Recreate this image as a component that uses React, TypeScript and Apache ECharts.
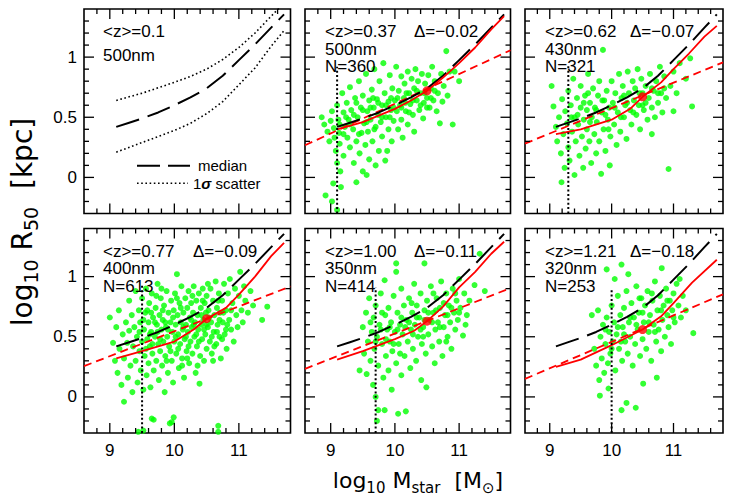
import React, { useEffect, useRef } from 'react';
import * as echarts from 'echarts';

// ---------- axes ----------
const X_MIN = 8.6;
const X_MAX = 11.8;
const Y_MIN = -0.3;
const Y_MAX = 1.4;
const xMajor = [9, 10, 11];
const xMinor = [8.8, 9.2, 9.4, 9.6, 9.8, 10.2, 10.4, 10.6, 10.8, 11.2, 11.4, 11.6];
const yMajor = [0, 0.5, 1];
const yMinor = [-0.2, -0.1, 0.1, 0.2, 0.3, 0.4, 0.6, 0.7, 0.8, 0.9, 1.1, 1.2, 1.3];

// ---------- panel texts ----------
const zLabels = ['<z>=0.1', '<z>=0.37', '<z>=0.62', '<z>=0.77', '<z>=1.00', '<z>=1.21'];
const bandLabels = ['500nm', '500nm', '430nm', '400nm', '350nm', '320nm'];
const countLabels = ['', 'N=360', 'N=321', 'N=613', 'N=414', 'N=253'];
const deltaLabels = ['', 'Δ=−0.02', 'Δ=−0.07', 'Δ=−0.09', 'Δ=−0.11', 'Δ=−0.18'];

// ---------- z=0.1 reference relation ----------
const median = [[9.1, 0.42], [9.3, 0.455], [9.5, 0.49], [9.75, 0.54], [10, 0.6], [10.25, 0.665], [10.5, 0.74], [10.75, 0.845], [11, 0.975], [11.25, 1.105], [11.5, 1.245], [11.7, 1.355]];
const sigmaUp = [[9.1, 0.64], [9.5, 0.7], [10, 0.79], [10.25, 0.84], [10.5, 0.9], [10.75, 0.98], [11, 1.08], [11.25, 1.2], [11.5, 1.34], [11.7, 1.45]];
const sigmaLo = [[9.1, 0.21], [9.5, 0.29], [10, 0.39], [10.25, 0.45], [10.5, 0.53], [10.75, 0.63], [11, 0.77], [11.25, 0.91], [11.5, 1.09], [11.7, 1.22]];

// ---------- red solid (shifted median) ----------
const red037 = [[9.1, 0.4], [9.5, 0.46], [10, 0.57], [10.25, 0.64], [10.5, 0.72], [10.75, 0.83], [11, 0.95], [11.25, 1.08], [11.5, 1.23], [11.7, 1.34]];
const red062 = [[9.1, 0.36], [9.5, 0.4], [10, 0.48], [10.3, 0.57], [10.5, 0.67], [10.8, 0.79], [11, 0.9], [11.25, 1.03], [11.5, 1.17], [11.7, 1.26]];
const red077 = [[9.1, 0.32], [9.5, 0.38], [10, 0.46], [10.3, 0.56], [10.5, 0.65], [10.8, 0.74], [11, 0.85], [11.25, 1.0], [11.5, 1.17], [11.7, 1.28]];
const red100 = [[9.1, 0.31], [9.5, 0.38], [10, 0.48], [10.3, 0.55], [10.5, 0.63], [10.75, 0.75], [11, 0.91], [11.25, 1.04], [11.5, 1.19], [11.7, 1.29]];
const red121 = [[9.1, 0.25], [9.5, 0.31], [10, 0.43], [10.5, 0.56], [10.8, 0.67], [11, 0.78], [11.3, 0.95], [11.7, 1.14]];

// ---------- red dashed linear fits ----------
const fit037 = [[8.6, 0.267], [11.8, 1.057]];
const fit062 = [[8.6, 0.281], [11.8, 0.956]];
const fit077 = [[8.6, 0.256], [11.8, 0.918]];
const fit100 = [[8.6, 0.233], [11.8, 0.905]];
const fit121 = [[8.6, 0.15], [11.8, 0.853]];

// ---------- red dots at log M = 10.5 ----------
const dot037 = [[10.5, 0.72]];
const dot062 = [[10.5, 0.67]];
const dot077 = [[10.5, 0.65]];
const dot100 = [[10.5, 0.63]];
const dot121 = [[10.5, 0.56]];

// ---------- completeness limits ----------
const limit037 = [[9.1, -0.3], [9.1, 0.92]];
const limit062 = [[9.3, -0.3], [9.3, 0.93]];
const limit077 = [[9.5, -0.3], [9.5, 0.93]];
const limit100 = [[9.7, -0.3], [9.7, 0.91]];
const limit121 = [[10.0, -0.3], [10.0, 0.9]];

// ---------- galaxies (green) ----------
const pts037 = [
  [8.86, 0.5], [8.9, 0.44], [8.95, 0.38], [8.98, 0.3], [9.0, 0.47], [9.02, 0.55], [9.05, 0.41], [9.06, 0.33], [9.08, 0.22], [9.1, 0.12], [9.1, 0.6], [9.12, 0.48], [9.13, 0.37], [9.14, 0.28], [9.15, 0.05], [9.16, -0.08], [9.04, -0.05], [9.02, -0.2], [8.92, -0.15], [9.18, 0.7], [9.2, 0.54], [9.2, 0.18], [9.1, -0.27],
  [9.22, 0.42], [9.25, 0.62], [9.26, 0.33], [9.28, 0.48], [9.3, 0.75], [9.3, 0.25], [9.32, 0.56], [9.35, 0.4], [9.36, 0.12], [9.38, 0.66], [9.4, 0.3], [9.4, -0.04], [9.42, 0.5], [9.44, 0.8], [9.45, 0.2], [9.47, 0.58], [9.48, 0.37], [9.5, 0.05], [9.5, 0.68], [9.52, 0.45], [9.54, 0.27], [9.55, 0.86], [9.56, 0.02], [9.57, 0.55], [9.58, 0.38], [9.6, 0.64], [9.6, 0.15],
  [9.62, 0.48], [9.64, 0.73], [9.65, 0.3], [9.67, 0.58], [9.68, 0.9], [9.7, 0.42], [9.7, 0.1], [9.72, 0.65], [9.74, 0.52], [9.75, 0.22], [9.76, 0.8], [9.78, 0.46], [9.8, 0.6], [9.8, 0.34], [9.82, 0.95], [9.84, 0.7], [9.85, 0.14], [9.86, 0.5], [9.88, 0.22], [9.9, 0.63], [9.9, 0.4], [9.92, 0.85], [9.94, 0.56], [9.95, 0.3], [9.96, 0.74], [9.98, 0.47], [10.0, 0.64],
  [10.02, 0.92], [10.03, 0.55], [10.05, 0.4], [10.06, 0.72], [10.08, 0.6], [10.1, 0.84], [10.1, 0.48], [10.12, 0.33], [10.14, 0.66], [10.15, 0.78], [10.17, 0.55], [10.2, 0.88], [10.2, 0.44], [10.22, 0.7], [10.24, 0.61], [10.26, 0.82], [10.28, 0.52], [10.3, 0.74], [10.3, 0.38], [10.32, 0.9], [10.34, 0.64], [10.36, 0.8], [10.38, 0.56], [10.4, 0.7], [10.42, 0.86], [10.44, 0.49], [10.45, 0.62], [10.47, 0.78], [10.5, 0.66],
  [10.52, 0.85], [10.54, 0.58], [10.56, 0.74], [10.58, 0.92], [10.6, 0.64], [10.62, 0.8], [10.65, 0.55], [10.67, 0.7], [10.7, 0.45], [10.72, 0.86], [10.74, 0.63], [10.76, 0.76], [10.8, 1.05], [10.82, 0.68], [10.85, 0.88], [10.9, 0.44], [10.93, 0.88], [11.0, 0.8],
  [9.3, 0.44], [9.36, 0.52], [9.44, 0.36], [9.5, 0.56], [9.56, 0.46], [9.62, 0.58], [9.68, 0.4], [9.74, 0.62], [9.8, 0.5], [9.86, 0.6], [9.92, 0.5], [9.98, 0.58], [10.04, 0.66], [10.1, 0.58], [10.16, 0.62], [10.22, 0.54], [10.28, 0.64], [10.34, 0.72], [10.4, 0.6], [10.46, 0.7], [10.56, 0.66], [10.62, 0.72], [9.2, 0.36], [9.24, 0.5], [9.14, 0.44], [9.4, 0.62], [9.66, 0.66], [9.94, 0.66], [10.18, 0.7], [10.5, 0.58]
];
const pts062 = [
  [9.03, 0.76], [9.06, 0.59], [9.1, 0.42], [9.12, 0.3], [9.15, 0.5], [9.18, 0.2], [9.19, -0.04], [9.2, 0.65], [9.22, 0.36], [9.24, 0.08], [9.25, 0.55], [9.28, 0.45], [9.3, 0.72], [9.3, 0.25], [9.32, 0.14], [9.34, 0.6], [9.36, 0.38], [9.38, 0.82], [9.4, 0.5], [9.4, 0.02], [9.42, 0.3], [9.44, 0.66], [9.46, 0.44], [9.48, 0.18], [9.5, 0.58], [9.5, 0.76], [9.52, 0.34], [9.54, 0.08], [9.55, 0.48], [9.57, 0.68], [9.58, 0.24], [9.6, 0.56], [9.6, 0.4], [9.62, 0.86], [9.64, 0.3], [9.65, 0.62], [9.67, 0.12], [9.68, 0.5], [9.7, 0.74], [9.72, 0.36], [9.73, 0.58], [9.75, 0.2], [9.76, 0.46], [9.78, 0.68], [9.8, 0.8], [9.8, 0.3], [9.83, 0.03], [9.84, 0.54], [9.86, 1.06], [9.87, 0.4], [9.88, 0.64], [9.9, 0.22], [9.92, 0.72], [9.94, 0.48], [9.96, 0.58], [9.97, 0.1], [9.98, 0.34],
  [10.0, 0.8], [10.02, 0.62], [10.04, 0.44], [10.06, 0.7], [10.08, 0.27], [10.1, 0.54], [10.12, 0.86], [10.14, 0.38], [10.16, 0.66], [10.18, 0.76], [10.2, 0.5], [10.22, 0.6], [10.24, 0.32], [10.26, 0.88], [10.28, 0.7], [10.3, 0.56], [10.32, 0.44], [10.34, 0.8], [10.36, 0.64], [10.38, 0.74], [10.4, 0.52], [10.42, 0.9], [10.44, 0.6], [10.46, 0.4], [10.48, 0.82], [10.5, 0.7], [10.52, 0.56], [10.55, 0.76], [10.58, 0.48], [10.6, 0.66], [10.62, 0.86], [10.65, 0.36], [10.65, 0.58], [10.68, 0.72], [10.7, 0.5], [10.72, 0.8], [10.75, 0.62], [10.78, 0.92], [10.8, 0.7], [10.82, 0.54], [10.85, 0.84], [10.88, 0.66], [10.92, 0.07], [10.95, 0.76], [11.0, 0.88], [11.05, 0.7], [11.1, 0.95], [11.2, 0.82], [11.27, 0.99], [11.3, 0.59], [11.0, 0.55],
  [9.45, 0.52], [9.55, 0.62], [9.65, 0.46], [9.75, 0.56], [9.85, 0.64], [9.95, 0.4], [10.05, 0.58], [10.15, 0.5], [10.25, 0.62], [10.35, 0.54], [10.45, 0.7], [10.55, 0.62], [10.65, 0.74], [10.75, 0.7], [9.35, 0.5], [9.62, 0.7], [9.9, 0.52], [10.2, 0.68], [10.5, 0.6], [10.85, 0.74]
];
const pts077 = [
  [9.0, 0.66], [9.05, 0.45], [9.08, 0.3], [9.1, 0.58], [9.12, 0.2], [9.14, 0.72], [9.15, 0.4], [9.18, 0.1], [9.2, 0.52], [9.22, -0.04], [9.22, 0.32], [9.25, 0.62], [9.27, 0.45], [9.28, 0.16], [9.3, 0.8], [9.3, 0.55], [9.32, 0.26], [9.34, 0.68], [9.35, 0.04], [9.36, 0.42], [9.38, 0.58], [9.4, 0.88], [9.4, 0.3], [9.42, 0.5], [9.43, 0.12], [9.44, -0.29], [9.45, 0.72], [9.46, 0.38], [9.47, 0.62], [9.48, 0.22], [9.5, 0.82], [9.5, 0.46], [9.52, -0.28], [9.52, 0.06],
  [9.53, 0.56], [9.54, 0.34], [9.55, 0.7], [9.56, 0.9], [9.57, 0.18], [9.58, 0.48], [9.6, 0.62], [9.6, 0.28], [9.61, 0.78], [9.62, 0.42], [9.63, 0.08], [9.64, 0.54], [9.65, -0.18], [9.65, 0.86], [9.66, 0.36], [9.67, 0.66], [9.68, 0.22], [9.68, -0.19], [9.7, 0.5], [9.71, 0.74], [9.72, 0.3], [9.73, 0.6], [9.74, 0.94], [9.75, 0.44], [9.76, 0.14], [9.77, 0.68], [9.78, 0.38], [9.79, 0.82], [9.8, 0.56], [9.81, 0.26], [9.82, 0.64], [9.83, 0.46], [9.84, 0.76], [9.85, 0.04], [9.86, 0.34], [9.87, 0.58], [9.88, 0.88], [9.89, 0.5], [9.9, 0.2], [9.91, 0.7], [9.92, 0.42], [9.93, -0.22], [9.94, 0.62], [9.95, 0.8], [9.96, 0.3], [9.96, -0.21], [9.97, 0.54], [9.98, 0.12], [9.99, -0.17], [9.99, 0.72],
  [10.0, 0.46], [10.01, 0.86], [10.02, 0.6], [10.03, 0.36], [10.04, 1.02], [10.05, 0.68], [10.06, 0.52], [10.07, 0.24], [10.08, 0.78], [10.09, 0.44], [10.1, 0.62], [10.11, 0.92], [10.12, 0.32], [10.13, 0.56], [10.14, 0.7], [10.15, 0.16], [10.16, 0.48], [10.17, 0.82], [10.18, 0.6], [10.19, 0.38], [10.2, 0.74], [10.21, 0.54], [10.22, 0.88], [10.23, 0.28], [10.24, 0.66], [10.25, 0.46], [10.26, 0.78], [10.27, 0.58], [10.28, 0.36], [10.29, 0.7], [10.3, 0.92], [10.31, 0.5], [10.32, 0.62], [10.33, 0.2], [10.34, 0.8], [10.35, 0.42], [10.36, 0.68], [10.37, 0.56], [10.38, 0.86], [10.39, 0.11], [10.4, 0.34], [10.41, 0.74], [10.42, 0.6], [10.43, 0.48], [10.44, 0.9], [10.45, 0.64], [10.46, 0.3], [10.47, 0.78], [10.48, 0.52], [10.49, 0.7], [10.5, 0.4], [10.5, 0.84],
  [10.52, 0.58], [10.53, 0.72], [10.55, 0.46], [10.56, 0.9], [10.57, 0.62], [10.58, 0.36], [10.6, 0.8], [10.61, 0.54], [10.62, 0.68], [10.64, 0.96], [10.65, 0.44], [10.66, 0.74], [10.67, 0.6], [10.68, -0.24], [10.68, -0.29], [10.69, 0.86], [10.7, 0.5], [10.71, 0.7], [10.72, 0.32], [10.74, 0.8], [10.75, 0.62], [10.77, 0.94], [10.78, 0.52], [10.8, 0.72], [10.81, 0.4], [10.83, 0.86], [10.85, 0.64], [10.86, 0.98], [10.88, 0.56], [10.9, 0.78], [10.92, 0.46], [10.94, 0.9], [10.96, 0.68], [10.98, 0.58], [11.0, 0.84], [11.02, 1.04], [11.04, 0.72], [11.06, 0.62], [11.08, 0.92], [11.1, 0.8], [11.14, 0.7], [11.18, 0.88], [11.22, 0.76], [11.36, 0.64], [11.44, 0.75],
  [9.58, 0.72], [9.62, 0.52], [9.66, 0.44], [9.7, 0.62], [9.74, 0.54], [9.78, 0.48], [9.82, 0.72], [9.86, 0.62], [9.9, 0.56], [9.94, 0.38], [9.98, 0.66], [10.02, 0.5], [10.06, 0.4], [10.1, 0.74], [10.14, 0.58], [10.18, 0.5], [10.22, 0.42], [10.26, 0.64], [10.3, 0.6], [10.34, 0.52], [10.38, 0.46], [10.42, 0.68], [10.46, 0.56], [10.5, 0.6], [10.54, 0.66], [10.58, 0.5], [10.62, 0.42], [10.66, 0.54], [10.7, 0.64], [10.76, 0.7], [10.82, 0.6], [10.88, 0.72], [9.52, 0.64], [9.46, 0.54], [9.56, 0.4], [9.64, 0.7], [9.72, 0.84], [9.8, 0.9], [9.88, 0.3], [10.04, 0.82], [10.12, 0.26], [10.2, 0.32], [10.28, 0.84], [10.36, 0.26], [10.44, 0.8], [10.52, 0.94], [10.6, 0.3], [10.68, 0.8], [10.74, 0.48], [10.8, 0.56]
];
const pts100 = [
  [9.45, 0.22], [9.5, 0.58], [9.52, 0.36], [9.55, 0.7], [9.56, 0.19], [9.58, 0.46], [9.6, 0.82], [9.62, 0.3], [9.64, 0.54], [9.66, 0.1], [9.67, 0.66], [9.68, 0.4], [9.7, 0.0], [9.7, 0.76], [9.72, -0.2], [9.72, 0.5], [9.74, -0.11], [9.74, 0.26], [9.76, 0.6], [9.78, 0.86], [9.8, 0.44], [9.82, 0.16], [9.84, 0.97], [9.84, -0.11], [9.85, 0.68], [9.86, 0.34], [9.88, 0.56], [9.9, 0.74], [9.9, 0.22], [9.92, 0.46], [9.94, 0.62], [9.95, 0.06], [9.96, 0.38], [9.98, 0.84],
  [10.0, 0.54], [10.02, 1.11], [10.02, 1.04], [10.02, 0.28], [10.04, 0.7], [10.05, -0.14], [10.06, 0.44], [10.08, 0.6], [10.1, 0.9], [10.1, 0.18], [10.12, 0.52], [10.14, 0.76], [10.15, 0.34], [10.17, -0.12], [10.18, 0.64], [10.2, 0.46], [10.22, 0.82], [10.24, 0.24], [10.25, 0.56], [10.27, 0.7], [10.28, 0.4], [10.3, 0.94], [10.31, 0.6], [10.33, 0.3], [10.34, 0.76], [10.36, 0.5], [10.38, 0.66], [10.4, 0.86], [10.41, 0.14], [10.42, 0.44], [10.44, 0.58], [10.46, 1.11], [10.46, 0.72], [10.48, 0.36], [10.49, 0.08], [10.5, 0.8],
  [10.52, 0.52], [10.54, 0.64], [10.56, 0.92], [10.58, 0.42], [10.6, 0.7], [10.62, 0.28], [10.63, 0.56], [10.65, 0.82], [10.67, 0.62], [10.69, 0.46], [10.7, 0.74], [10.72, 0.96], [10.74, 0.34], [10.76, 0.58], [10.78, 0.68], [10.8, 0.86], [10.82, 0.5], [10.84, 0.76], [10.86, 0.62], [10.88, 0.4], [10.9, 0.9], [10.92, 0.7], [10.94, 0.56], [10.96, 0.8], [10.98, 0.64], [11.0, 0.98], [11.02, 0.74], [11.06, 0.51], [11.08, 0.86], [11.12, 0.68], [11.16, 0.8], [11.24, 0.93], [11.32, 1.19], [11.4, 0.88],
  [9.7, 0.46], [9.78, 0.56], [9.86, 0.48], [9.92, 0.58], [9.98, 0.44], [10.04, 0.56], [10.1, 0.66], [10.16, 0.58], [10.22, 0.62], [10.28, 0.52], [10.34, 0.66], [10.4, 0.56], [10.46, 0.64], [10.52, 0.7], [10.58, 0.62], [10.64, 0.72], [10.7, 0.58], [10.76, 0.78], [10.82, 0.68], [10.88, 0.74], [10.94, 0.86], [11.0, 0.7], [9.62, 0.62], [9.8, 0.7], [10.08, 0.36], [10.26, 0.78], [10.44, 0.5], [10.6, 0.86], [10.8, 0.46], [11.1, 0.6]
];
const pts121 = [
  [9.68, 0.68], [9.72, 0.4], [9.75, 0.26], [9.78, 0.72], [9.8, 0.14], [9.81, 0.01], [9.82, 0.5], [9.84, 0.32], [9.86, 0.6], [9.88, 0.2], [9.9, 0.44], [9.92, 1.06], [9.92, 0.66], [9.94, 0.28], [9.95, 0.07], [9.96, 0.54], [9.98, 0.36],
  [10.0, 0.76], [10.02, 0.46], [10.04, 0.62], [10.05, 0.98], [10.06, 0.22], [10.08, 0.52], [10.1, 0.84], [10.12, 0.4], [10.14, 0.68], [10.16, 1.1], [10.16, -0.11], [10.17, 0.3], [10.18, 0.58], [10.2, 0.74], [10.22, 0.46], [10.24, -0.05], [10.24, 0.88], [10.26, 0.36], [10.27, 1.02], [10.28, 0.62], [10.3, 0.5], [10.32, 0.78], [10.34, 0.26], [10.36, 0.66], [10.38, 0.44], [10.39, -0.09], [10.4, 0.92], [10.42, 0.56], [10.44, 0.7], [10.46, 0.34], [10.48, 0.82], [10.5, 0.48],
  [10.51, 0.11], [10.52, 0.62], [10.54, 0.76], [10.56, 0.4], [10.58, 0.88], [10.6, 0.54], [10.62, 0.68], [10.64, 0.3], [10.66, 0.8], [10.68, 0.6], [10.7, 0.96], [10.72, 0.46], [10.73, 0.16], [10.74, 0.72], [10.76, 0.56], [10.78, 0.84], [10.8, 0.38], [10.81, 1.07], [10.82, 0.64], [10.84, 0.76], [10.86, 0.5], [10.88, 0.9], [10.9, 0.68], [10.92, 0.58], [10.94, 0.8], [10.96, 0.44], [10.98, 0.72], [11.0, 0.86], [11.02, 0.62], [11.05, 0.94], [11.08, 0.76], [11.1, 0.98], [11.12, 0.66], [11.15, 0.84], [11.2, 0.72], [11.32, 0.53],
  [9.9, 0.56], [10.0, 0.4], [10.1, 0.58], [10.2, 0.52], [10.3, 0.66], [10.4, 0.6], [10.5, 0.7], [10.6, 0.62], [10.7, 0.54], [10.8, 0.72], [10.9, 0.8], [11.0, 0.66], [10.15, 0.46], [10.45, 0.82], [10.65, 0.86]
];

const galaxies = [null, pts037, pts062, pts077, pts100, pts121];
const redCurves = [null, red037, red062, red077, red100, red121];
const fits = [null, fit037, fit062, fit077, fit100, fit121];
const dots = [null, dot037, dot062, dot077, dot100, dot121];
const limits = [null, limit037, limit062, limit077, limit100, limit121];

// ---------- layout ----------
const GRIDS = [
  { left: 84, top: 9, width: 206.5, height: 204.5 },
  { left: 305, top: 9, width: 205.5, height: 204.5 },
  { left: 525, top: 9, width: 198, height: 204.5 },
  { left: 84, top: 228.5, width: 206.5, height: 204.5 },
  { left: 305, top: 228.5, width: 205.5, height: 204.5 },
  { left: 525, top: 228.5, width: 198, height: 204.5 },
];
const LAB_FONT = 'Liberation Sans';
const TITLE_FONT = 'DejaVu Sans';
const MAJOR_LEN = 10;
const MINOR_LEN = 5;

// tick marks as graphic segments, positioned with the same linear mapping as each panel's axes
function tickGraphics() {
  const out: any[] = [];
  const seg = (x1: number, y1: number, x2: number, y2: number) => ({
    type: 'line', silent: true, z: 100, zlevel: 0,
    shape: { x1, y1, x2, y2 },
    style: { stroke: '#000000', lineWidth: 1.3, opacity: 1 },
  });
  GRIDS.forEach((g) => {
    const xp = (v: number) => g.left + ((v - X_MIN) / (X_MAX - X_MIN)) * g.width;
    const yp = (v: number) => g.top + ((Y_MAX - v) / (Y_MAX - Y_MIN)) * g.height;
    const yb = g.top + g.height, yt = g.top, xl = g.left, xr = g.left + g.width;
    const addX = (v: number, len: number) => {
      const x = xp(v);
      out.push(seg(x, yb, x, yb - len));
      out.push(seg(x, yt, x, yt + len));
    };
    const addY = (v: number, len: number) => {
      const y = yp(v);
      out.push(seg(xl, y, xl + len, y));
      out.push(seg(xr, y, xr - len, y));
    };
    xMajor.forEach((v) => addX(v, MAJOR_LEN));
    xMinor.forEach((v) => addX(v, MINOR_LEN));
    yMajor.forEach((v) => addY(v, MAJOR_LEN));
    yMinor.forEach((v) => addY(v, MINOR_LEN));
  });
  return out;
}

function buildOption() {
  const grid: any[] = [];
  const xAxis: any[] = [];
  const yAxis: any[] = [];
  const series: any[] = [];
  const graphic: any[] = [];

  GRIDS.forEach((g, i) => {
    const bottomRow = i >= 3;
    const leftCol = i % 3 === 0;
    grid.push({
      left: g.left, top: g.top, width: g.width, height: g.height,
      show: true, borderColor: '#000', borderWidth: 1.6, backgroundColor: 'transparent',
      containLabel: false,
    });
    xAxis.push({
      type: 'value', gridIndex: i, position: 'bottom', min: X_MIN, max: X_MAX,
      axisLine: { show: false, onZero: false }, splitLine: { show: false }, axisTick: { show: false }, minorTick: { show: false },
      axisLabel: bottomRow
        ? { show: true, customValues: xMajor, color: '#000', fontSize: 17, fontFamily: LAB_FONT, margin: 9 }
        : { show: false },
      silent: true,
    });
    yAxis.push({
      type: 'value', gridIndex: i, position: 'left', min: Y_MIN, max: Y_MAX,
      axisLine: { show: false, onZero: false }, splitLine: { show: false }, axisTick: { show: false }, minorTick: { show: false },
      axisLabel: leftCol
        ? { show: true, customValues: yMajor, color: '#000', fontSize: 17, fontFamily: LAB_FONT, margin: 7 }
        : { show: false },
      silent: true,
    });

    const ax = { xAxisIndex: i, yAxisIndex: i };
    const line = (data: any, color: string, type: any, width: number, z: number) => ({
      type: 'line', ...ax, data, symbol: 'none', showSymbol: false, silent: true, z,
      lineStyle: { color, width, type }, animation: false,
    });
    const p = i;
    if (galaxies[p]) {
      series.push({ type: 'scatter', ...ax, data: galaxies[p], symbol: 'circle', symbolSize: 6, itemStyle: { color: '#00ff00' }, silent: true, z: 2 });
      series.push(line(fits[p], '#ff0000', [8, 5], 1.8, 3));
    }
    series.push(line(median, '#000', [24, 9], 2, 4));
    if (p === 0) {
      series.push(line(sigmaUp, '#000', [1.6, 2.6], 1.6, 4));
      series.push(line(sigmaLo, '#000', [1.6, 2.6], 1.6, 4));
    }
    if (redCurves[p]) {
      series.push(line(redCurves[p], '#ff0000', 'solid', 1.8, 5));
      series.push(line(limits[p], '#000', [2, 2.4], 2, 5));
      series.push({ type: 'scatter', ...ax, data: dots[p], symbol: 'circle', symbolSize: 9, itemStyle: { color: '#ff0000' }, silent: true, z: 6 });
    }

    // panel texts
    const offL = leftCol ? 19 : 20;
    const offD = i % 3 === 2 ? 105 : 109;
    const txt = (text: string, x: number, y: number) => ({
      type: 'text', x, y, silent: true, z: 10,
      style: { text, fill: '#000', font: `17px "${LAB_FONT}"`, fontSize: 17, fontFamily: LAB_FONT, align: 'left', verticalAlign: 'middle', textAlign: 'left', textVerticalAlign: 'middle' },
    });
    graphic.push(txt(zLabels[p], g.left + offL, g.top + 22.7));
    graphic.push(txt(bandLabels[p], g.left + offL, g.top + (p === 0 ? 46 : 40.3)));
    if (countLabels[p]) graphic.push(txt(countLabels[p], g.left + offL, g.top + 57.7));
    if (deltaLabels[p]) graphic.push(txt(deltaLabels[p], g.left + offD, g.top + 22.7));
  });

  // legend in first panel
  graphic.push({ type: 'line', silent: true, z: 10, shape: { x1: 137, y1: 165.7, x2: 190, y2: 165.7 }, style: { stroke: '#000', lineWidth: 2, lineDash: [23, 8] } });
  graphic.push({ type: 'line', silent: true, z: 10, shape: { x1: 137, y1: 183.3, x2: 188, y2: 183.3 }, style: { stroke: '#000', lineWidth: 1.6, lineDash: [1.6, 2.6] } });
  graphic.push({ type: 'text', x: 198, y: 165.7, silent: true, z: 10, style: { text: 'median', fill: '#000', font: `15px "${LAB_FONT}"`, align: 'left', verticalAlign: 'middle', textAlign: 'left', textVerticalAlign: 'middle' } });
  graphic.push({
    type: 'text', x: 193, y: 183.3, silent: true, z: 10,
    style: {
      text: '{n|1}{g|σ}{n| scatter}', align: 'left', verticalAlign: 'middle', textAlign: 'left', textVerticalAlign: 'middle',
      rich: {
        n: { fontSize: 15, fontFamily: LAB_FONT, fill: '#000', color: '#000' },
        g: { fontSize: 15, fontFamily: LAB_FONT, fontStyle: 'italic', fontWeight: 'bold', fill: '#000', color: '#000' },
      },
    },
  });

  // axis titles
  const titleRich = (main: number, sub: number) => ({
    n: { fontSize: main, fontFamily: TITLE_FONT, fill: '#000', color: '#000', lineHeight: main + 8 },
    s: { fontSize: sub, fontFamily: TITLE_FONT, fill: '#000', color: '#000', verticalAlign: 'bottom' },
  });
  graphic.push({
    type: 'text', x: 418, y: 480, silent: true, z: 10,
    style: {
      text: '{n|log}{s|10}{n| M}{s|star}{n|  [M}{s|⊙}{n|]}', align: 'center', verticalAlign: 'middle', textAlign: 'center', textVerticalAlign: 'middle',
      rich: titleRich(22, 15),
    },
  });
  graphic.push({
    type: 'text', x: 22, y: 222, rotation: Math.PI / 2, silent: true, z: 10,
    style: {
      text: '{n|log}{s|10}{n| R}{s|50}{n|  [kpc]}', align: 'center', verticalAlign: 'middle', textAlign: 'center', textVerticalAlign: 'middle',
      rich: titleRich(28, 19),
    },
  });

  // tick marks (graphic, drawn last, on top)
  tickGraphics().forEach((t) => graphic.push(t));

  return { animation: false, backgroundColor: '#fff', grid, xAxis, yAxis, series, graphic };
}

export default function App() {
  const ref = useRef<HTMLDivElement>(null);
  useEffect(() => {
    const chart = echarts.init(ref.current as HTMLDivElement, null, { renderer: 'svg' });
    chart.setOption(buildOption() as any);
    return () => chart.dispose();
  }, []);
  return <div ref={ref} style={{ position: 'absolute', left: 0, top: 0, width: 731, height: 503, background: '#fff' }} />;
}
